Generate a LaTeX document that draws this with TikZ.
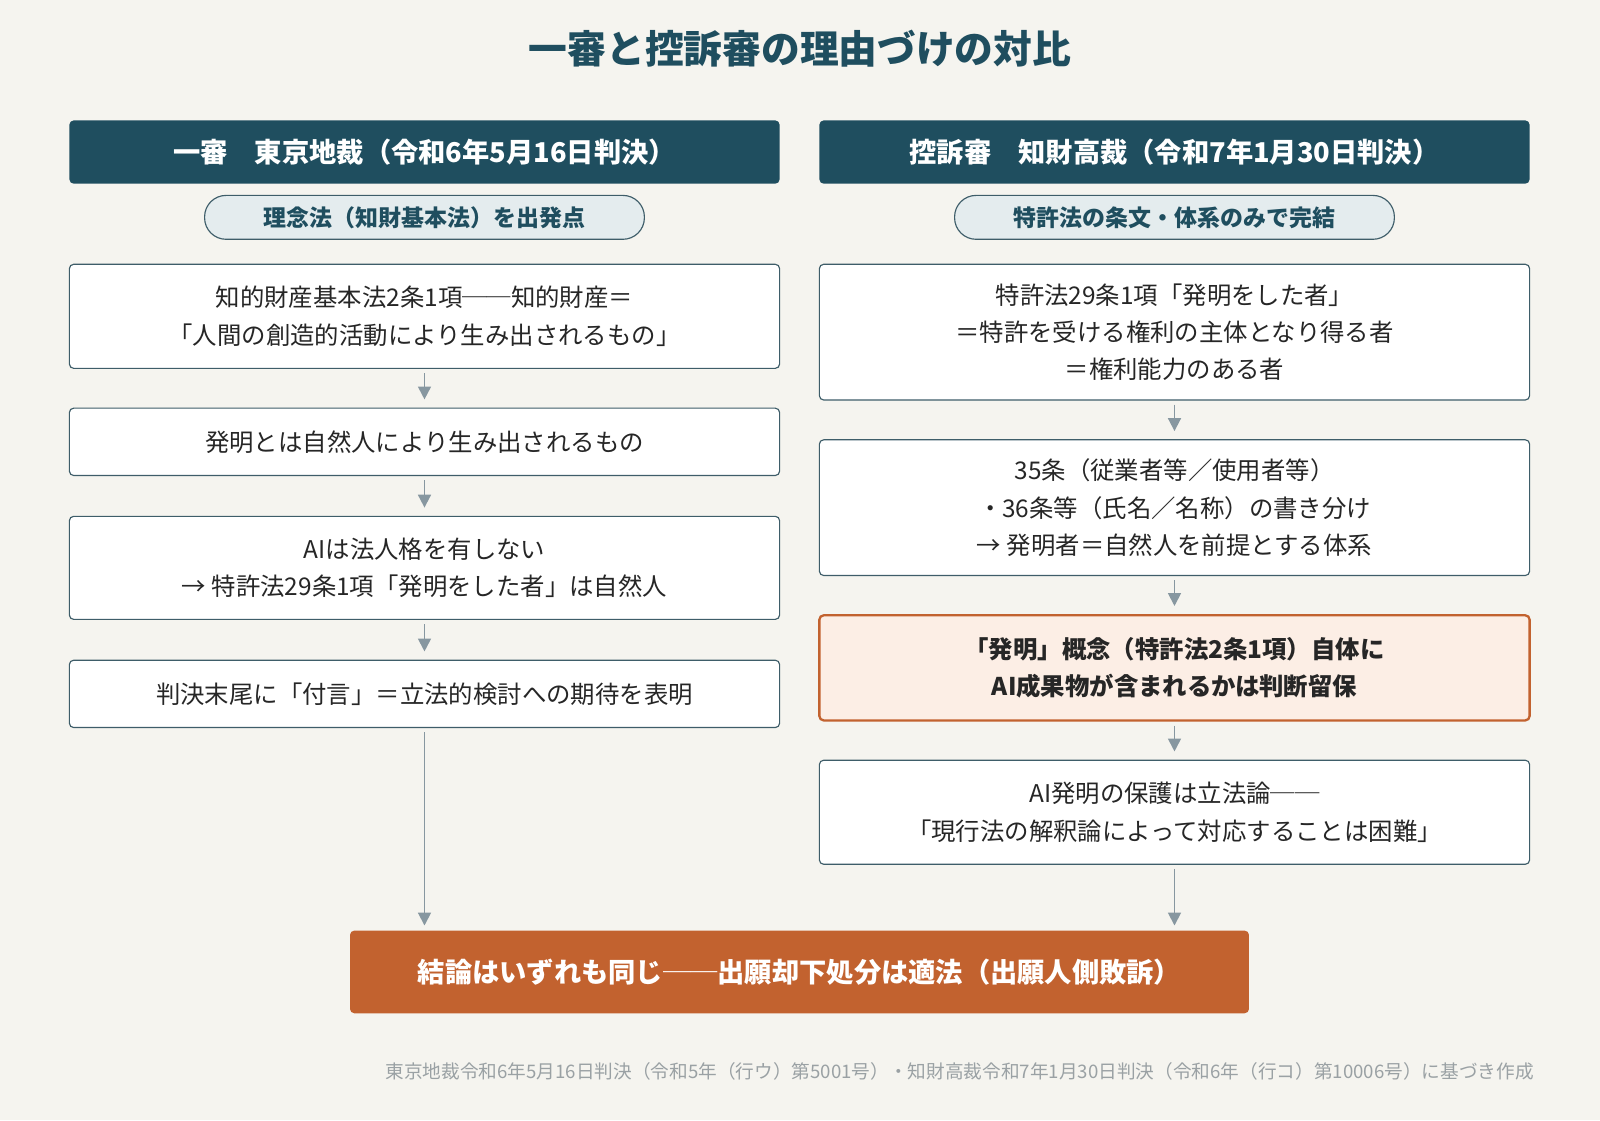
\documentclass[tikz,border=0pt]{standalone}
\usepackage{fontspec}
\setmainfont{Noto Sans CJK JP}
\usetikzlibrary{positioning,arrows.meta}
\definecolor{bgc}{HTML}{F5F4EF}
\definecolor{teal}{HTML}{1F4E5F}
\definecolor{pill}{HTML}{E4ECEE}
\definecolor{edge}{HTML}{3E5D69}
\definecolor{orng}{HTML}{C2622F}
\definecolor{peach}{HTML}{FCEEE5}
\definecolor{arr}{HTML}{8797A0}
\definecolor{foot}{HTML}{9AA1A4}

\tikzset{
  head/.style={fill=teal,rounded corners=3pt,minimum width=696\xu,minimum height=62\xu,text=white,font=\fontsize{19}{23}\selectfont\bfseries},
  pill/.style={draw=edge,fill=pill,line width=0.8pt,rounded corners=21\xu,minimum width=431\xu,minimum height=43\xu,text=teal,font=\fontsize{16}{20}\selectfont\bfseries},
  box/.style={draw=edge,fill=white,line width=0.8pt,rounded corners=3pt,minimum width=696\xu,align=center,font=\fontsize{17}{26}\selectfont,text=black!85},
  hot/.style={box,draw=orng,fill=peach,line width=1.6pt,font=\fontsize{17}{26}\selectfont\bfseries},
  flow/.style={draw=arr,line width=1.3pt,-{Triangle[length=9pt,width=9pt]}}
}
\newlength{\xu}\setlength{\xu}{0.025cm}

\begin{document}
\begin{tikzpicture}[x=0.025cm,y=-0.025cm]
\fill[bgc] (0,0) rectangle (1568,1098);
\useasboundingbox (0,0) rectangle (1568,1098);

\node[text=teal,font=\fontsize{27}{32}\selectfont\bfseries] (title) at (784,48) {一審と控訴審の理由づけの対比};

% left column
\node[head] (lhead) at (416,149) {一審\quad 東京地裁（令和6年5月16日判決）};
\node[pill] (lpill) at (416,213) {理念法（知財基本法）を出発点};
\node[box,minimum height=102\xu] (l1) at (416,310) {知的財産基本法2条1項──知的財産＝\\「人間の創造的活動により生み出されるもの」};
\node[box,minimum height=66\xu] (l2) at (416,433) {発明とは自然人により生み出されるもの};
\node[box,minimum height=101\xu] (l3) at (416,556.5) {AIは法人格を有しない\\→ 特許法29条1項「発明をした者」は自然人};
\node[box,minimum height=66\xu] (l4) at (416,680) {判決末尾に「付言」＝立法的検討への期待を表明};

% right column
\node[head] (rhead) at (1151,149) {控訴審\quad 知財高裁（令和7年1月30日判決）};
\node[pill] (rpill) at (1151,213) {特許法の条文・体系のみで完結};
\node[box,minimum height=133\xu] (r1) at (1151,325.5) {特許法29条1項「発明をした者」\\＝特許を受ける権利の主体となり得る者\\＝権利能力のある者};
\node[box,minimum height=133\xu] (r2) at (1151,497.5) {35条（従業者等／使用者等）\\・36条等（氏名／名称）の書き分け\\→ 発明者＝自然人を前提とする体系};
\node[hot,minimum height=103\xu] (r3) at (1151,654.5) {「発明」概念（特許法2条1項）自体に\\AI成果物が含まれるかは判断留保};
\node[box,minimum height=102\xu] (r4) at (1151,796) {AI発明の保護は立法論──\\「現行法の解釈論によって対応することは困難」};

% conclusion
\node[fill=orng,rounded corners=3pt,minimum width=881\xu,minimum height=81\xu,text=white,font=\fontsize{19}{23}\selectfont\bfseries] (end) at (783.5,952.5) {結論はいずれも同じ──出願却下処分は適法（出願人側敗訴）};
\coordinate (lend) at (416,907);
\coordinate (rend) at (1151,907);

\node[anchor=east,text=foot,font=\fontsize{13}{16}\selectfont] (note) at (1508,1050) {東京地裁令和6年5月16日判決（令和5年（行ウ）第5001号）・知財高裁令和7年1月30日判決（令和6年（行コ）第10006号）に基づき作成};

\draw[flow] ([yshift=-4\xu]l1.south) -- ([yshift=8\xu]l2.north);
\draw[flow] ([yshift=-4\xu]l2.south) -- ([yshift=8\xu]l3.north);
\draw[flow] ([yshift=-4\xu]l3.south) -- ([yshift=8\xu]l4.north);
\draw[flow] ([yshift=-4\xu]l4.south) -- (lend);
\draw[flow] ([yshift=-4\xu]r1.south) -- ([yshift=8\xu]r2.north);
\draw[flow] ([yshift=-4\xu]r2.south) -- ([yshift=8\xu]r3.north);
\draw[flow] ([yshift=-4\xu]r3.south) -- ([yshift=8\xu]r4.north);
\draw[flow] ([yshift=-4\xu]r4.south) -- (rend);
\end{tikzpicture}
\end{document}
